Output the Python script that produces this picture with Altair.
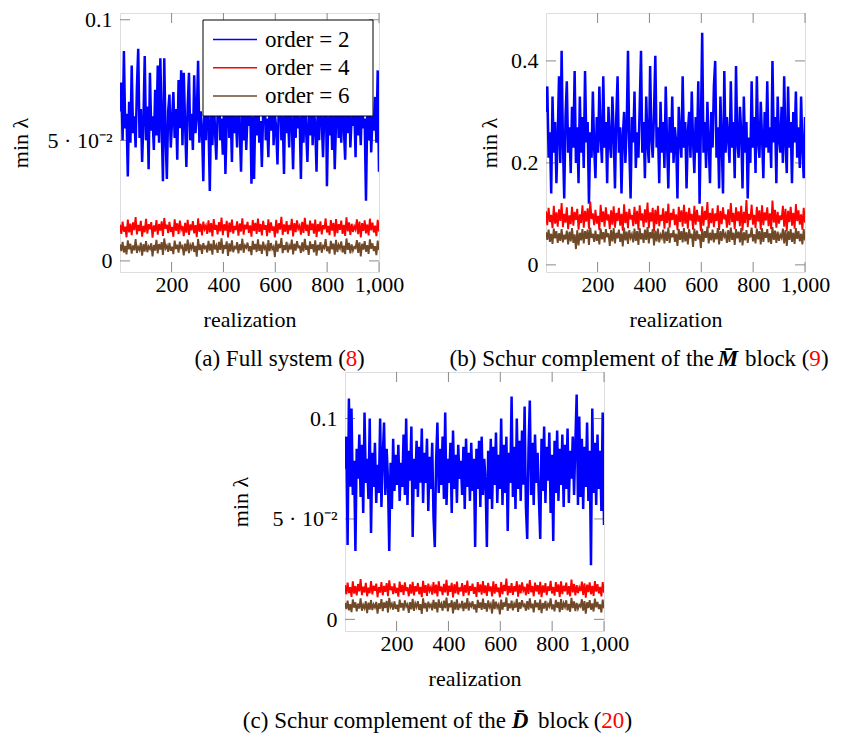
import altair as alt
import numpy as np
import pandas as pd

# ---------------- data ----------------
realization = np.linspace(1, 1000, 200)
x_ticks = [200, 400, 600, 800, 1000]
series_names = ["order = 2", "order = 4", "order = 6"]
colors = ["#0000FF", "#FF0000", "#704A28"]

# panel (a) Full system
a_order2 = [
0.062,0.074,0.050,0.087,0.055,0.061,0.035,0.066,0.049,0.081,
0.053,0.060,0.047,0.072,0.088,0.051,0.063,0.041,0.058,0.085,
0.050,0.064,0.038,0.078,0.054,0.060,0.046,0.071,0.052,0.081,
0.049,0.084,0.057,0.033,0.084,0.052,0.034,0.062,0.069,0.047,
0.058,0.070,0.051,0.063,0.042,0.075,0.055,0.079,0.048,0.078,
0.057,0.039,0.064,0.078,0.050,0.061,0.046,0.077,0.053,0.060,
0.083,0.049,0.062,0.055,0.033,0.066,0.050,0.074,0.057,0.029,
0.063,0.048,0.070,0.054,0.042,0.061,0.080,0.050,0.059,0.044,
0.066,0.036,0.058,0.075,0.051,0.062,0.041,0.071,0.053,0.060,
0.047,0.079,0.055,0.037,0.063,0.050,0.072,0.046,0.061,0.056,
0.068,0.032,0.060,0.034,0.064,0.052,0.078,0.049,0.058,0.039,
0.062,0.073,0.050,0.059,0.043,0.066,0.054,0.082,0.048,0.061,
0.055,0.040,0.064,0.076,0.050,0.060,0.036,0.069,0.053,0.062,
0.047,0.074,0.057,0.038,0.063,0.051,0.080,0.055,0.060,0.034,
0.065,0.049,0.072,0.054,0.041,0.061,0.052,0.077,0.048,0.063,
0.056,0.037,0.067,0.050,0.075,0.058,0.043,0.062,0.081,0.031,
0.060,0.052,0.070,0.046,0.064,0.038,0.058,0.073,0.051,0.062,
0.049,0.078,0.055,0.042,0.066,0.053,0.071,0.047,0.060,0.056,
0.064,0.043,0.076,0.052,0.061,0.048,0.069,0.055,0.059,0.025,
0.062,0.050,0.073,0.045,0.060,0.054,0.068,0.049,0.079,0.037]
a_order4 = [
0.0150,0.0112,0.0163,0.0121,0.0142,0.0098,0.0171,0.0118,0.0155,0.0107,
0.0160,0.0128,0.0182,0.0110,0.0149,0.0124,0.0166,0.0101,0.0145,0.0119,
0.0174,0.0113,0.0152,0.0131,0.0161,0.0096,0.0147,0.0122,0.0169,0.0109,
0.0153,0.0126,0.0164,0.0104,0.0178,0.0133,0.0150,0.0115,0.0162,0.0120,
0.0141,0.0100,0.0172,0.0125,0.0156,0.0111,0.0167,0.0130,0.0144,0.0103,
0.0158,0.0117,0.0170,0.0108,0.0151,0.0127,0.0165,0.0114,0.0148,0.0099,
0.0176,0.0121,0.0154,0.0106,0.0163,0.0132,0.0146,0.0112,0.0168,0.0118,
0.0157,0.0102,0.0173,0.0129,0.0149,0.0110,0.0161,0.0123,0.0180,0.0107,
0.0152,0.0126,0.0166,0.0097,0.0159,0.0119,0.0171,0.0113,0.0145,0.0128,
0.0164,0.0105,0.0155,0.0122,0.0177,0.0109,0.0150,0.0131,0.0162,0.0116,
0.0147,0.0101,0.0169,0.0124,0.0158,0.0112,0.0175,0.0120,0.0153,0.0106,
0.0166,0.0129,0.0148,0.0103,0.0172,0.0117,0.0160,0.0125,0.0143,0.0098,
0.0170,0.0114,0.0156,0.0130,0.0183,0.0108,0.0151,0.0121,0.0165,0.0111,
0.0149,0.0127,0.0174,0.0102,0.0157,0.0119,0.0168,0.0133,0.0146,0.0109,
0.0162,0.0116,0.0179,0.0124,0.0150,0.0104,0.0167,0.0128,0.0155,0.0113,
0.0171,0.0099,0.0153,0.0122,0.0164,0.0110,0.0148,0.0131,0.0176,0.0118,
0.0145,0.0107,0.0169,0.0126,0.0158,0.0101,0.0173,0.0115,0.0152,0.0129,
0.0167,0.0112,0.0149,0.0104,0.0181,0.0123,0.0160,0.0108,0.0154,0.0120,
0.0143,0.0130,0.0172,0.0111,0.0163,0.0097,0.0157,0.0125,0.0168,0.0114,
0.0151,0.0106,0.0175,0.0127,0.0159,0.0118,0.0146,0.0103,0.0170,0.0122]
a_order6 = [
0.0068,0.0041,0.0079,0.0035,0.0062,0.0027,0.0085,0.0048,0.0071,0.0030,
0.0064,0.0044,0.0090,0.0033,0.0058,0.0046,0.0076,0.0022,0.0069,0.0039,
0.0082,0.0036,0.0060,0.0050,0.0073,0.0019,0.0066,0.0043,0.0087,0.0031,
0.0070,0.0047,0.0078,0.0025,0.0093,0.0052,0.0063,0.0038,0.0075,0.0042,
0.0059,0.0028,0.0084,0.0049,0.0067,0.0034,0.0080,0.0054,0.0061,0.0023,
0.0072,0.0040,0.0088,0.0032,0.0065,0.0051,0.0077,0.0037,0.0062,0.0018,
0.0091,0.0045,0.0068,0.0029,0.0074,0.0053,0.0060,0.0035,0.0083,0.0043,
0.0071,0.0026,0.0086,0.0048,0.0063,0.0033,0.0079,0.0046,0.0094,0.0030,
0.0066,0.0050,0.0081,0.0021,0.0073,0.0039,0.0085,0.0036,0.0058,0.0052,
0.0078,0.0031,0.0069,0.0044,0.0092,0.0034,0.0064,0.0055,0.0076,0.0040,
0.0061,0.0024,0.0083,0.0047,0.0070,0.0037,0.0089,0.0042,0.0067,0.0029,
0.0080,0.0051,0.0062,0.0020,0.0086,0.0041,0.0074,0.0049,0.0059,0.0016,
0.0084,0.0038,0.0070,0.0053,0.0095,0.0032,0.0065,0.0045,0.0079,0.0035,
0.0063,0.0048,0.0088,0.0027,0.0071,0.0043,0.0082,0.0056,0.0060,0.0033,
0.0077,0.0039,0.0091,0.0046,0.0064,0.0025,0.0081,0.0050,0.0069,0.0036,
0.0085,0.0022,0.0067,0.0044,0.0078,0.0034,0.0062,0.0054,0.0090,0.0040,
0.0060,0.0030,0.0083,0.0048,0.0072,0.0026,0.0087,0.0037,0.0066,0.0052,
0.0081,0.0035,0.0063,0.0028,0.0093,0.0046,0.0075,0.0031,0.0068,0.0043,
0.0058,0.0053,0.0086,0.0033,0.0077,0.0019,0.0071,0.0047,0.0082,0.0038,
0.0065,0.0029,0.0089,0.0050,0.0073,0.0041,0.0061,0.0024,0.0084,0.0045]

# panel (b) Schur complement of the M block
b_order2 = [
0.30,0.35,0.21,0.26,0.14,0.33,0.22,0.28,0.16,0.25,
0.37,0.20,0.42,0.24,0.13,0.29,0.36,0.22,0.27,0.18,
0.31,0.23,0.38,0.20,0.27,0.16,0.33,0.22,0.29,0.19,
0.38,0.24,0.28,0.12,0.26,0.21,0.34,0.23,0.17,0.29,
0.22,0.35,0.25,0.20,0.37,0.23,0.28,0.16,0.31,0.24,
0.21,0.33,0.26,0.15,0.29,0.37,0.22,0.27,0.14,0.25,
0.30,0.20,0.27,0.42,0.23,0.13,0.29,0.24,0.34,0.19,
0.26,0.21,0.31,0.42,0.22,0.28,0.17,0.33,0.24,0.20,
0.39,0.25,0.21,0.30,0.41,0.23,0.27,0.16,0.32,0.22,
0.28,0.19,0.35,0.24,0.15,0.29,0.22,0.33,0.20,0.27,
0.24,0.13,0.31,0.25,0.21,0.37,0.23,0.28,0.15,0.26,
0.30,0.21,0.34,0.24,0.18,0.29,0.22,0.36,0.12,0.27,
0.455,0.22,0.28,0.19,0.32,0.24,0.16,0.30,0.23,0.35,
0.40,0.21,0.27,0.15,0.33,0.24,0.14,0.38,0.22,0.29,
0.25,0.20,0.36,0.23,0.28,0.17,0.39,0.24,0.21,0.31,
0.26,0.15,0.33,0.22,0.28,0.13,0.25,0.20,0.36,0.23,
0.29,0.18,0.37,0.24,0.21,0.32,0.25,0.17,0.30,0.23,
0.36,0.22,0.27,0.19,0.40,0.24,0.29,0.16,0.33,0.25,
0.22,0.31,0.20,0.37,0.24,0.18,0.35,0.23,0.28,0.16,
0.30,0.24,0.34,0.21,0.27,0.19,0.33,0.23,0.17,0.29]
b_order4 = [
0.105,0.078,0.112,0.084,0.098,0.072,0.116,0.081,0.103,0.075,
0.109,0.086,0.121,0.074,0.100,0.083,0.113,0.070,0.097,0.080,
0.114,0.077,0.104,0.088,0.110,0.069,0.099,0.082,0.117,0.073,
0.106,0.085,0.111,0.071,0.124,0.090,0.101,0.078,0.108,0.081,
0.096,0.068,0.118,0.084,0.105,0.075,0.113,0.087,0.099,0.070,
0.107,0.079,0.115,0.073,0.102,0.086,0.112,0.077,0.100,0.067,
0.119,0.082,0.104,0.072,0.110,0.089,0.098,0.076,0.114,0.080,
0.106,0.069,0.117,0.087,0.101,0.074,0.109,0.083,0.122,0.072,
0.103,0.085,0.112,0.066,0.108,0.080,0.116,0.076,0.098,0.086,
0.111,0.071,0.105,0.082,0.120,0.073,0.102,0.088,0.110,0.078,
0.099,0.068,0.114,0.084,0.107,0.075,0.118,0.081,0.104,0.071,
0.112,0.087,0.100,0.069,0.116,0.079,0.108,0.085,0.097,0.066,
0.115,0.077,0.106,0.088,0.123,0.072,0.102,0.082,0.111,0.074,
0.101,0.086,0.117,0.068,0.106,0.080,0.113,0.089,0.099,0.073,
0.109,0.078,0.121,0.084,0.102,0.070,0.113,0.086,0.105,0.076,
0.116,0.067,0.104,0.082,0.127,0.074,0.100,0.088,0.118,0.079,
0.098,0.072,0.114,0.085,0.107,0.069,0.117,0.078,0.103,0.087,
0.113,0.076,0.101,0.070,0.126,0.083,0.108,0.073,0.104,0.081,
0.097,0.088,0.116,0.075,0.110,0.066,0.106,0.084,0.114,0.077,
0.102,0.071,0.119,0.086,0.107,0.079,0.099,0.069,0.112,0.083]
b_order6 = [
0.064,0.049,0.069,0.045,0.061,0.041,0.071,0.052,0.066,0.043,
0.062,0.047,0.070,0.044,0.059,0.050,0.067,0.040,0.065,0.046,
0.072,0.043,0.060,0.031,0.068,0.038,0.063,0.048,0.070,0.042,
0.066,0.051,0.069,0.039,0.073,0.053,0.061,0.045,0.067,0.047,
0.060,0.040,0.071,0.050,0.064,0.044,0.070,0.054,0.062,0.037,
0.068,0.046,0.072,0.042,0.063,0.052,0.069,0.045,0.061,0.036,
0.073,0.048,0.065,0.041,0.068,0.053,0.060,0.044,0.071,0.047,
0.066,0.039,0.072,0.050,0.062,0.043,0.069,0.049,0.074,0.042,
0.064,0.052,0.070,0.038,0.067,0.046,0.071,0.044,0.059,0.053,
0.069,0.042,0.065,0.047,0.073,0.043,0.062,0.054,0.068,0.045,
0.061,0.037,0.070,0.049,0.066,0.044,0.072,0.046,0.064,0.040,
0.070,0.052,0.061,0.035,0.071,0.047,0.067,0.050,0.060,0.033,
0.071,0.045,0.066,0.053,0.075,0.042,0.063,0.048,0.069,0.044,
0.062,0.050,0.072,0.040,0.066,0.047,0.070,0.055,0.061,0.043,
0.068,0.045,0.073,0.049,0.063,0.039,0.070,0.052,0.065,0.044,
0.072,0.038,0.064,0.048,0.068,0.043,0.061,0.054,0.073,0.046,
0.060,0.042,0.071,0.050,0.066,0.040,0.072,0.045,0.064,0.053,
0.070,0.044,0.062,0.041,0.074,0.049,0.067,0.043,0.065,0.047,
0.059,0.053,0.071,0.042,0.068,0.037,0.066,0.049,0.070,0.045,
0.063,0.041,0.072,0.051,0.066,0.046,0.061,0.040,0.070,0.048]

# panel (c) Schur complement of the D block
c_order2 = [
0.075,0.091,0.037,0.110,0.066,0.105,0.062,0.079,0.034,0.085,
0.070,0.092,0.061,0.087,0.053,0.103,0.068,0.080,0.060,0.100,
0.043,0.083,0.066,0.088,0.058,0.077,0.063,0.100,0.056,0.081,
0.098,0.062,0.085,0.070,0.034,0.078,0.055,0.090,0.064,0.082,
0.067,0.087,0.059,0.078,0.066,0.092,0.062,0.100,0.057,0.084,
0.069,0.096,0.041,0.080,0.065,0.089,0.061,0.086,0.068,0.095,
0.058,0.083,0.068,0.090,0.054,0.081,0.065,0.088,0.051,0.036,
0.079,0.098,0.063,0.085,0.067,0.091,0.060,0.103,0.057,0.080,
0.068,0.088,0.053,0.094,0.065,0.082,0.058,0.087,0.070,0.079,
0.062,0.086,0.055,0.090,0.066,0.083,0.059,0.088,0.064,0.080,
0.036,0.085,0.065,0.089,0.056,0.091,0.062,0.080,0.069,0.036,
0.084,0.060,0.090,0.055,0.086,0.067,0.093,0.058,0.082,0.065,
0.100,0.057,0.087,0.063,0.091,0.044,0.083,0.068,0.111,0.061,
0.086,0.055,0.100,0.065,0.089,0.059,0.094,0.067,0.106,0.056,
0.040,0.085,0.109,0.062,0.088,0.057,0.092,0.068,0.083,0.060,
0.040,0.090,0.064,0.096,0.058,0.086,0.069,0.093,0.053,0.082,
0.039,0.089,0.063,0.094,0.059,0.085,0.067,0.092,0.056,0.087,
0.065,0.095,0.058,0.084,0.070,0.091,0.062,0.088,0.112,0.057,
0.101,0.061,0.090,0.055,0.086,0.066,0.098,0.059,0.084,0.027,
0.105,0.063,0.088,0.057,0.092,0.065,0.084,0.054,0.103,0.047]
c_order4 = [
0.0170,0.0125,0.0183,0.0131,0.0160,0.0112,0.0189,0.0128,0.0166,0.0119,
0.0176,0.0139,0.0201,0.0121,0.0163,0.0134,0.0182,0.0115,0.0158,0.0130,
0.0190,0.0124,0.0168,0.0142,0.0178,0.0110,0.0161,0.0133,0.0186,0.0120,
0.0167,0.0137,0.0181,0.0116,0.0194,0.0145,0.0164,0.0126,0.0179,0.0131,
0.0157,0.0113,0.0188,0.0136,0.0172,0.0122,0.0184,0.0141,0.0159,0.0115,
0.0174,0.0128,0.0187,0.0119,0.0165,0.0138,0.0181,0.0125,0.0162,0.0111,
0.0192,0.0132,0.0170,0.0117,0.0178,0.0143,0.0160,0.0123,0.0185,0.0129,
0.0173,0.0114,0.0190,0.0140,0.0163,0.0121,0.0177,0.0134,0.0197,0.0118,
0.0168,0.0137,0.0182,0.0109,0.0175,0.0130,0.0188,0.0124,0.0159,0.0139,
0.0180,0.0116,0.0171,0.0133,0.0193,0.0120,0.0166,0.0142,0.0178,0.0127,
0.0161,0.0112,0.0186,0.0135,0.0174,0.0123,0.0191,0.0131,0.0169,0.0117,
0.0182,0.0140,0.0164,0.0114,0.0189,0.0128,0.0176,0.0136,0.0158,0.0110,
0.0186,0.0125,0.0172,0.0141,0.0203,0.0119,0.0167,0.0132,0.0181,0.0122,
0.0165,0.0138,0.0190,0.0113,0.0173,0.0130,0.0184,0.0144,0.0162,0.0120,
0.0178,0.0127,0.0195,0.0135,0.0166,0.0115,0.0183,0.0139,0.0171,0.0124,
0.0187,0.0110,0.0169,0.0133,0.0180,0.0121,0.0164,0.0142,0.0192,0.0129,
0.0161,0.0118,0.0185,0.0137,0.0174,0.0112,0.0189,0.0126,0.0168,0.0140,
0.0183,0.0123,0.0165,0.0115,0.0198,0.0134,0.0176,0.0119,0.0170,0.0131,
0.0159,0.0141,0.0188,0.0122,0.0179,0.0108,0.0173,0.0136,0.0184,0.0125,
0.0167,0.0117,0.0191,0.0138,0.0175,0.0129,0.0162,0.0114,0.0186,0.0133]
c_order6 = [
0.0082,0.0051,0.0093,0.0045,0.0076,0.0036,0.0099,0.0058,0.0085,0.0040,
0.0078,0.0054,0.0104,0.0043,0.0072,0.0056,0.0090,0.0031,0.0083,0.0049,
0.0096,0.0046,0.0074,0.0060,0.0087,0.0028,0.0080,0.0053,0.0101,0.0041,
0.0084,0.0057,0.0092,0.0034,0.0107,0.0062,0.0077,0.0048,0.0089,0.0052,
0.0073,0.0037,0.0098,0.0059,0.0081,0.0044,0.0094,0.0064,0.0075,0.0032,
0.0086,0.0050,0.0102,0.0042,0.0079,0.0061,0.0091,0.0047,0.0076,0.0027,
0.0105,0.0055,0.0082,0.0039,0.0088,0.0063,0.0074,0.0045,0.0097,0.0053,
0.0085,0.0035,0.0100,0.0058,0.0077,0.0043,0.0093,0.0056,0.0108,0.0040,
0.0080,0.0060,0.0095,0.0030,0.0087,0.0049,0.0099,0.0046,0.0072,0.0062,
0.0092,0.0041,0.0083,0.0054,0.0106,0.0044,0.0078,0.0065,0.0090,0.0050,
0.0075,0.0033,0.0097,0.0057,0.0084,0.0047,0.0103,0.0052,0.0081,0.0039,
0.0094,0.0061,0.0076,0.0029,0.0100,0.0051,0.0088,0.0059,0.0073,0.0025,
0.0098,0.0048,0.0084,0.0063,0.0109,0.0042,0.0079,0.0055,0.0093,0.0045,
0.0077,0.0058,0.0102,0.0037,0.0085,0.0053,0.0096,0.0066,0.0074,0.0043,
0.0091,0.0049,0.0105,0.0056,0.0078,0.0035,0.0095,0.0060,0.0083,0.0046,
0.0099,0.0031,0.0081,0.0054,0.0092,0.0044,0.0076,0.0064,0.0104,0.0050,
0.0074,0.0040,0.0097,0.0058,0.0086,0.0036,0.0101,0.0047,0.0080,0.0062,
0.0095,0.0045,0.0077,0.0038,0.0107,0.0056,0.0089,0.0041,0.0082,0.0053,
0.0072,0.0063,0.0100,0.0043,0.0091,0.0029,0.0085,0.0057,0.0096,0.0048,
0.0079,0.0039,0.0103,0.0060,0.0087,0.0051,0.0075,0.0034,0.0098,0.0055]

# ---------------- style ----------------
FONT = "Liberation Serif"
W, H = 259, 259
TICK = "#8a8a8a"
LW = [2.5, 1.9, 1.9]
dummy = pd.DataFrame({"k": [0]})


def text(s, x, y, color="black", align="center", weight="normal", style="normal", size=23):
    return alt.Chart(dummy).mark_text(
        text=s, align=align, baseline="middle", font=FONT, fontSize=size,
        color=color, fontWeight=weight, fontStyle=style,
    ).encode(x=alt.value(x), y=alt.value(y))


def panel(series, ydomain, yticks, ylabel_expr, caption_layers, ytitle_pad, legend=False):
    xs = alt.Scale(domain=[1, 1000], nice=False, zero=False)
    ys = alt.Scale(domain=ydomain, nice=False, zero=False)
    x_enc = alt.X("realization:Q", scale=xs, axis=alt.Axis(
        values=x_ticks, format=",d", title="realization", ticks=False, tickSize=0,
        domain=False, grid=False, labelPadding=2, titlePadding=14, labelFlush=False,
        labelOverlap=False, labelFont=FONT, labelFontSize=22, titleFont=FONT,
        titleFontSize=22, titleFontWeight="normal", labelColor="black", titleColor="black"))
    y_enc = alt.Y("value:Q", scale=ys, axis=alt.Axis(
        values=yticks, labelExpr=ylabel_expr, title="min λ", ticks=False, tickSize=0,
        domain=False, grid=False, labelPadding=8, titlePadding=ytitle_pad, labelFlush=False,
        labelOverlap=False, labelFont=FONT, labelFontSize=22, titleFont=FONT,
        titleFontSize=22, titleFontWeight="normal", labelColor="black", titleColor="black"))

    xt = pd.DataFrame({"realization": x_ticks})
    yt = pd.DataFrame({"value": yticks})
    layers = [
        alt.Chart(xt).mark_rule(color=TICK, strokeWidth=1).encode(x=x_enc, y=alt.value(H), y2=alt.value(H - 10)),
        alt.Chart(xt).mark_rule(color=TICK, strokeWidth=1).encode(x=x_enc, y=alt.value(0), y2=alt.value(10)),
        alt.Chart(yt).mark_rule(color=TICK, strokeWidth=1).encode(y=y_enc, x=alt.value(0), x2=alt.value(10)),
        alt.Chart(yt).mark_rule(color=TICK, strokeWidth=1).encode(y=y_enc, x=alt.value(W - 10), x2=alt.value(W)),
    ]
    for vals, name, col, lw in zip(series, series_names, colors, LW):
        df = pd.DataFrame({"realization": realization, "value": vals, "order": name})
        layers.append(alt.Chart(df).mark_line(color=col, strokeWidth=lw, clip=True).encode(x=x_enc, y=y_enc))
    if legend:
        layers.append(alt.Chart(dummy).mark_rect(fill="white", stroke="black", strokeWidth=1).encode(
            x=alt.value(83), x2=alt.value(253), y=alt.value(7), y2=alt.value(103)))
        for i, (name, col) in enumerate(zip(series_names, colors)):
            yy = 26.5 + 28.3 * i
            layers.append(alt.Chart(dummy).mark_rule(color=col, strokeWidth=1.5).encode(
                x=alt.value(93), x2=alt.value(137), y=alt.value(yy)))
            layers.append(text(name, 145, yy, align="left", size=23))
    layers.extend(caption_layers)
    return alt.layer(*layers).properties(width=W, height=H)


ab_expr = "datum.value == 0 ? '0' : (datum.value < 0.075 ? '5 · 10⁻²' : '0.1')"
b_expr = "datum.value == 0 ? '0' : format(datum.value, '.1f')"

cap_y = 346
cap_a = [
    text("(a) Full system (", 226, cap_y, align="right"),
    text("8", 231.5, cap_y, color="#FF0000"),
    text(")", 237, cap_y, align="left"),
]
cap_b = [
    text("(b) Schur complement of the", 168, cap_y, align="right"),
    text("M\u0304", 182, cap_y, weight="bold", style="italic"),
    text("block", 199, cap_y, align="left"),
    text("(", 263.5, cap_y, align="right"),
    text("9", 269, cap_y, color="#FF0000"),
    text(")", 275, cap_y, align="left"),
]
cap_c = [
    text("(c) Schur complement of the", 161, 349, align="right"),
    text("D\u0304", 175, 349, weight="bold", style="italic"),
    text("block", 193, 349, align="left"),
    text("(", 256.5, 349, align="right"),
    text("20", 267.7, 349, color="#FF0000"),
    text(")", 279.5, 349, align="left"),
]

pa = panel([a_order2, a_order4, a_order6], [-0.0046, 0.1028], [0, 0.05, 0.1], ab_expr, cap_a, 15, legend=True)
pb = panel([b_order2, b_order4, b_order6], [-0.014, 0.494], [0, 0.2, 0.4], b_expr, cap_b, 9)
pc = panel([c_order2, c_order4, c_order6], [-0.0058, 0.1232], [0, 0.05, 0.1], ab_expr, cap_c, 20)

spacer = alt.Chart(dummy).mark_point(opacity=0).encode(
    x=alt.value(0), y=alt.value(0)).properties(width=225, height=10, view=alt.ViewBackground(stroke="transparent"))

top = alt.hconcat(pa, pb, spacing=167, bounds="flush")
bottom = alt.hconcat(spacer, pc, spacing=0, bounds="flush")
chart = alt.vconcat(top, bottom, spacing=-19,
                    padding={"left": 0, "top": 0, "right": 0, "bottom": 0}).configure_view(
    stroke="black", strokeWidth=1).configure(background="white")

chart.save("out.html", embed_options={"renderer": "svg", "actions": False})
